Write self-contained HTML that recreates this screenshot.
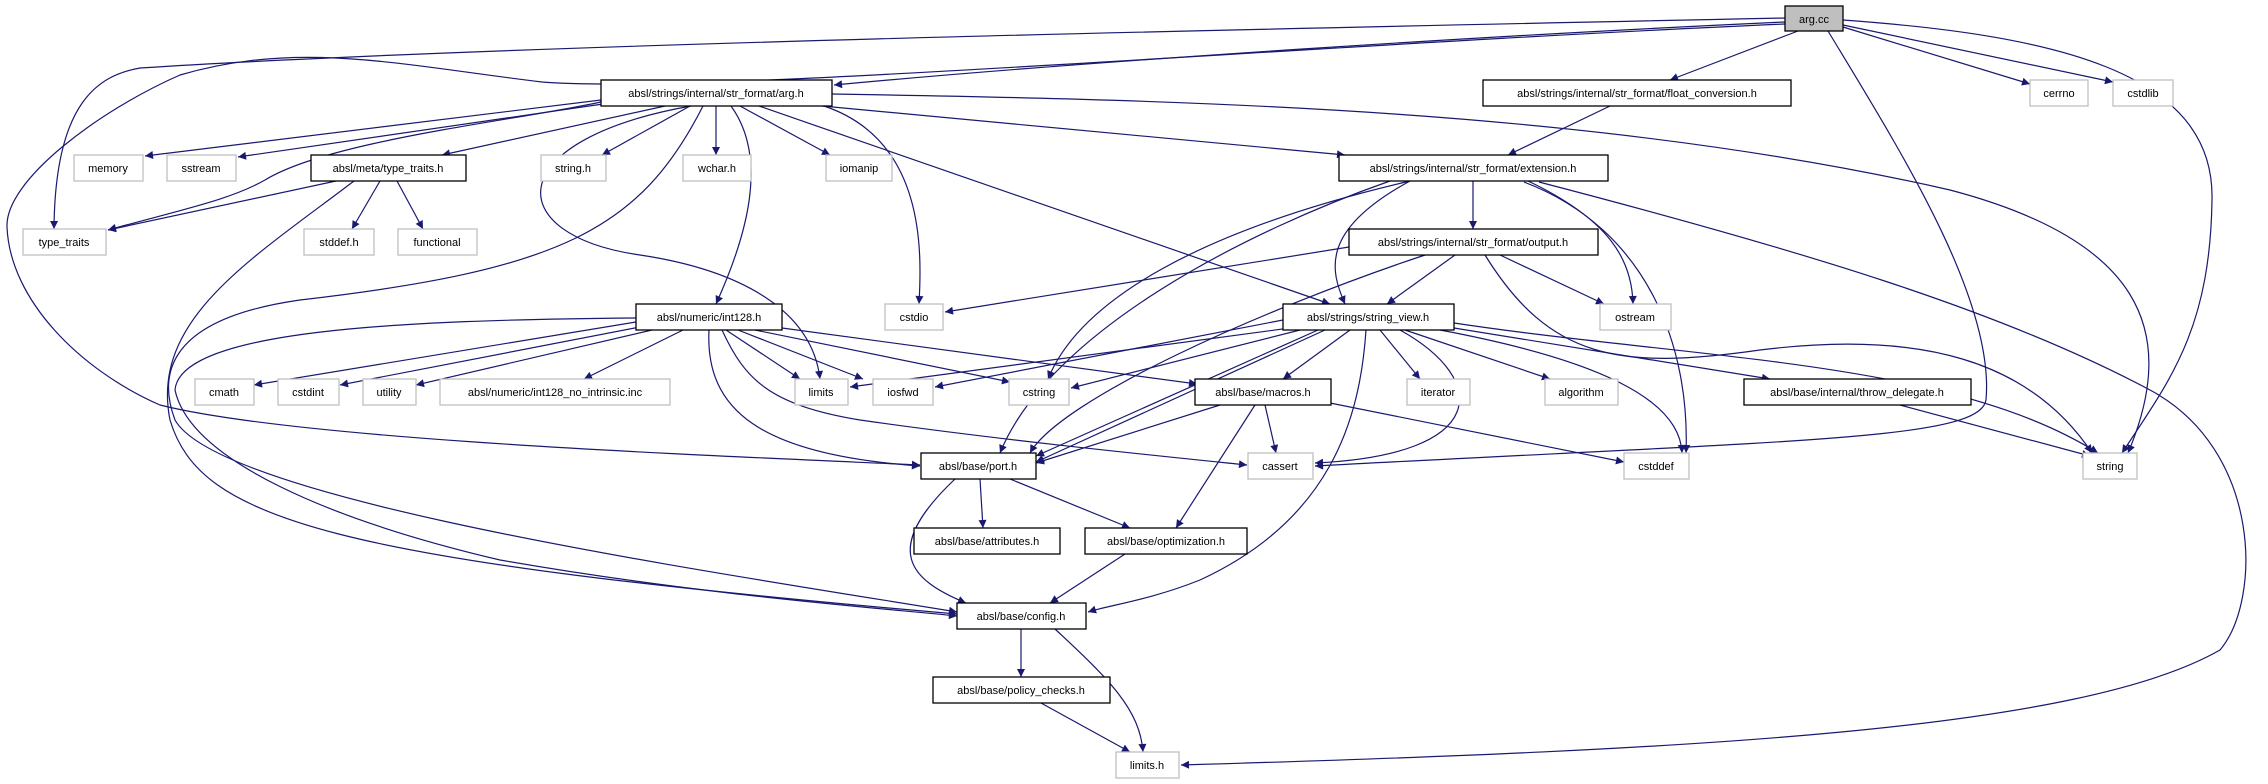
<!DOCTYPE html>
<html><head><meta charset="utf-8"><style>
html,body{margin:0;padding:0;background:#fff;}
svg{display:block;}
text{font-family:"Liberation Sans",sans-serif;font-size:11px;fill:#000;}
.e{fill:none;stroke:#191970;stroke-width:1.2;marker-end:url(#a);}
.n{fill:#fff;stroke:#000;stroke-width:1.3;}
.g{fill:#fff;stroke:#bfbfbf;stroke-width:1.3;}
</style></head><body>
<svg width="2268" height="784" viewBox="0 0 2268 784" xmlns="http://www.w3.org/2000/svg">
<defs><marker id="a" viewBox="0 0 10 10" refX="10" refY="5" markerWidth="10" markerHeight="8" markerUnits="userSpaceOnUse" orient="auto"><path d="M0,0 L10,5 L0,10 z" fill="#191970"/></marker></defs>

<!-- arg.cc edges -->
<path class="e" d="M1785,22 C1500,35 1100,60 834,85"/>
<path class="e" d="M1798,31 L1670,80"/>
<path class="e" d="M1843,27 L2030,84"/>
<path class="e" d="M1843,25 L2113,82"/>
<path class="e" d="M1843,20 C2050,35 2215,70 2212,200 C2210,330 2170,380 2122,453"/>
<path class="e" d="M1828,31 C1900,150 1995,300 1986,400 C1980,440 1800,440 1315,466"/>
<path class="e" d="M1785,18 C1200,30 500,45 140,68 C100,75 55,100 54,229"/>
<path class="e" d="M1785,24 C1300,45 700,95 542,82 C400,65 300,40 180,75 C100,110 5,180 7,227 C10,300 80,370 160,405 C300,440 700,455 920,465"/>

<!-- arg.h edges -->
<path class="e" d="M601,100 L145,156"/>
<path class="e" d="M603,104 L238,157"/>
<path class="e" d="M665,106 L442,155"/>
<path class="e" d="M601,102 C520,120 330,140 265,180 C230,200 180,210 108,230"/>
<path class="e" d="M690,106 L602,155"/>
<path class="e" d="M716,106 L716,155"/>
<path class="e" d="M740,106 L830,155"/>
<path class="e" d="M824,106 C925,140 922,250 919,304"/>
<path class="e" d="M731,106 C770,160 745,240 716,304"/>
<path class="e" d="M691,106 C500,140 500,235 640,255 C740,270 812,310 820,379"/>
<path class="e" d="M759,106 L1330,304"/>
<path class="e" d="M822,106 L1345,155"/>
<path class="e" d="M832,94 C1200,100 1600,110 1950,190 C2140,240 2180,330 2128,453"/>
<path class="e" d="M703,106 C640,230 560,270 300,300 C160,320 160,380 175,420 C220,500 700,570 957,612"/>

<!-- float_conversion -->
<path class="e" d="M1610,106 L1508,155"/>

<!-- meta/type_traits.h -->
<path class="e" d="M336,181 L108,230"/>
<path class="e" d="M380,181 L352,229"/>
<path class="e" d="M397,181 L423,229"/>
<path class="e" d="M354,181 C250,260 150,320 170,420 C200,520 330,560 957,614"/>

<!-- extension.h -->
<path class="e" d="M1390,181 C1250,230 1050,330 1000,453"/>
<path class="e" d="M1410,181 C1200,230 1080,300 1048,379"/>
<path class="e" d="M1410,181 C1320,230 1330,270 1345,304"/>
<path class="e" d="M1473,181 L1473,229"/>
<path class="e" d="M1528,181 C1610,220 1632,260 1633,304"/>
<path class="e" d="M1524,182 C1650,230 1690,350 1686,453"/>
<path class="e" d="M1539,182 C1800,250 2000,310 2150,390 C2262,450 2262,600 2220,650 C2080,730 1700,750 1181,765"/>

<!-- output.h -->
<path class="e" d="M1349,247 L945,312"/>
<path class="e" d="M1425,255 C1260,310 1060,400 1030,453"/>
<path class="e" d="M1455,255 L1387,304"/>
<path class="e" d="M1500,255 L1604,304"/>
<path class="e" d="M1485,255 C1550,360 1620,370 1760,350 C1920,330 2030,360 2092,453"/>

<!-- int128.h -->
<path class="e" d="M636,322 L254,385"/>
<path class="e" d="M640,327 L340,385"/>
<path class="e" d="M652,330 L416,385"/>
<path class="e" d="M683,330 L584,379"/>
<path class="e" d="M726,330 L800,379"/>
<path class="e" d="M738,330 L863,379"/>
<path class="e" d="M755,330 L1010,382"/>
<path class="e" d="M782,328 L1197,384"/>
<path class="e" d="M722,330 C745,380 770,405 860,420 C1000,440 1150,455 1247,465"/>
<path class="e" d="M709,330 C705,410 760,455 920,466"/>
<path class="e" d="M636,318 C400,320 180,330 175,390 C190,460 330,520 500,560 C700,595 880,608 957,616"/>

<!-- string_view.h -->
<path class="e" d="M1283,320 L935,387"/>
<path class="e" d="M1290,328 L850,387"/>
<path class="e" d="M1300,330 L1071,388"/>
<path class="e" d="M1318,330 L1036,456"/>
<path class="e" d="M1325,330 L1036,462"/>
<path class="e" d="M1350,330 L1283,379"/>
<path class="e" d="M1380,330 L1420,379"/>
<path class="e" d="M1405,330 L1550,379"/>
<path class="e" d="M1454,328 L1770,379"/>
<path class="e" d="M1440,330 C1600,360 1680,400 1682,453"/>
<path class="e" d="M1454,323 C1700,360 1950,360 2098,453"/>
<path class="e" d="M1400,330 C1490,380 1490,455 1315,463"/>
<path class="e" d="M1366,330 C1360,420 1330,520 1200,580 C1150,600 1110,605 1088,612"/>

<!-- macros.h -->
<path class="e" d="M1220,405 L1036,463"/>
<path class="e" d="M1265,405 L1276,453"/>
<path class="e" d="M1255,405 L1176,528"/>
<path class="e" d="M1330,403 L1624,462"/>

<!-- throw_delegate -->
<path class="e" d="M1900,405 L2090,456"/>

<!-- port.h -->
<path class="e" d="M980,479 L983,528"/>
<path class="e" d="M1010,479 L1130,528"/>
<path class="e" d="M955,479 C880,550 910,580 966,603"/>
<!-- optimization -->
<path class="e" d="M1125,554 L1050,603"/>
<!-- config -->
<path class="e" d="M1021,629 L1021,677"/>
<path class="e" d="M1055,629 C1110,680 1140,710 1143,752"/>
<path class="e" d="M1041,703 L1130,752"/>

<!-- nodes -->
<g>
<rect x="1785" y="6" width="58" height="25" fill="#bfbfbf" stroke="#000" stroke-width="1.3"/><text x="1814" y="23" text-anchor="middle">arg.cc</text>
<rect class="n" x="601" y="80" width="231" height="26"/><text x="716" y="97" text-anchor="middle">absl/strings/internal/str_format/arg.h</text>
<rect class="n" x="1483" y="80" width="308" height="26"/><text x="1637" y="97" text-anchor="middle">absl/strings/internal/str_format/float_conversion.h</text>
<rect class="g" x="2030" y="80" width="58" height="26"/><text x="2059" y="97" text-anchor="middle">cerrno</text>
<rect class="g" x="2113" y="80" width="60" height="26"/><text x="2143" y="97" text-anchor="middle">cstdlib</text>
<rect class="g" x="74" y="155" width="69" height="26"/><text x="108" y="172" text-anchor="middle">memory</text>
<rect class="g" x="167" y="155" width="69" height="26"/><text x="201" y="172" text-anchor="middle">sstream</text>
<rect class="n" x="311" y="155" width="155" height="26"/><text x="388" y="172" text-anchor="middle">absl/meta/type_traits.h</text>
<rect class="g" x="541" y="155" width="65" height="26"/><text x="573" y="172" text-anchor="middle">string.h</text>
<rect class="g" x="683" y="155" width="68" height="26"/><text x="717" y="172" text-anchor="middle">wchar.h</text>
<rect class="g" x="826" y="155" width="66" height="26"/><text x="859" y="172" text-anchor="middle">iomanip</text>
<rect class="n" x="1339" y="155" width="269" height="26"/><text x="1473" y="172" text-anchor="middle">absl/strings/internal/str_format/extension.h</text>
<rect class="g" x="23" y="229" width="83" height="26"/><text x="64" y="246" text-anchor="middle">type_traits</text>
<rect class="g" x="304" y="229" width="70" height="26"/><text x="339" y="246" text-anchor="middle">stddef.h</text>
<rect class="g" x="398" y="229" width="79" height="26"/><text x="437" y="246" text-anchor="middle">functional</text>
<rect class="n" x="1349" y="229" width="249" height="26"/><text x="1473" y="246" text-anchor="middle">absl/strings/internal/str_format/output.h</text>
<rect class="n" x="636" y="304" width="146" height="26"/><text x="709" y="321" text-anchor="middle">absl/numeric/int128.h</text>
<rect class="g" x="885" y="304" width="58" height="26"/><text x="914" y="321" text-anchor="middle">cstdio</text>
<rect class="n" x="1283" y="304" width="171" height="26"/><text x="1368" y="321" text-anchor="middle">absl/strings/string_view.h</text>
<rect class="g" x="1600" y="304" width="71" height="26"/><text x="1635" y="321" text-anchor="middle">ostream</text>
<rect class="g" x="195" y="379" width="59" height="26"/><text x="224" y="396" text-anchor="middle">cmath</text>
<rect class="g" x="278" y="379" width="61" height="26"/><text x="308" y="396" text-anchor="middle">cstdint</text>
<rect class="g" x="363" y="379" width="53" height="26"/><text x="389" y="396" text-anchor="middle">utility</text>
<rect class="g" x="440" y="379" width="230" height="26"/><text x="555" y="396" text-anchor="middle">absl/numeric/int128_no_intrinsic.inc</text>
<rect class="g" x="795" y="379" width="53" height="26"/><text x="821" y="396" text-anchor="middle">limits</text>
<rect class="g" x="873" y="379" width="60" height="26"/><text x="903" y="396" text-anchor="middle">iosfwd</text>
<rect class="g" x="1009" y="379" width="60" height="26"/><text x="1039" y="396" text-anchor="middle">cstring</text>
<rect class="n" x="1195" y="379" width="136" height="26"/><text x="1263" y="396" text-anchor="middle">absl/base/macros.h</text>
<rect class="g" x="1407" y="379" width="63" height="26"/><text x="1438" y="396" text-anchor="middle">iterator</text>
<rect class="g" x="1545" y="379" width="73" height="26"/><text x="1581" y="396" text-anchor="middle">algorithm</text>
<rect class="n" x="1744" y="379" width="227" height="26"/><text x="1857" y="396" text-anchor="middle">absl/base/internal/throw_delegate.h</text>
<rect class="n" x="921" y="453" width="115" height="26"/><text x="978" y="470" text-anchor="middle">absl/base/port.h</text>
<rect class="g" x="1248" y="453" width="65" height="26"/><text x="1280" y="470" text-anchor="middle">cassert</text>
<rect class="g" x="1624" y="453" width="65" height="26"/><text x="1656" y="470" text-anchor="middle">cstddef</text>
<rect class="g" x="2083" y="453" width="54" height="26"/><text x="2110" y="470" text-anchor="middle">string</text>
<rect class="n" x="914" y="528" width="146" height="26"/><text x="987" y="545" text-anchor="middle">absl/base/attributes.h</text>
<rect class="n" x="1085" y="528" width="162" height="26"/><text x="1166" y="545" text-anchor="middle">absl/base/optimization.h</text>
<rect class="n" x="957" y="603" width="129" height="26"/><text x="1021" y="620" text-anchor="middle">absl/base/config.h</text>
<rect class="n" x="933" y="677" width="177" height="26"/><text x="1021" y="694" text-anchor="middle">absl/base/policy_checks.h</text>
<rect class="g" x="1116" y="752" width="63" height="26"/><text x="1147" y="769" text-anchor="middle">limits.h</text>
</g>
</svg>
</body></html>
